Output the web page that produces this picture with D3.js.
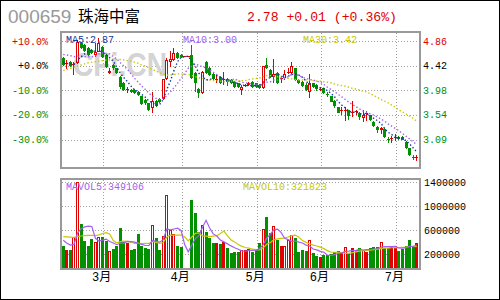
<!DOCTYPE html>
<html><head><meta charset="utf-8">
<script src="https://cdn.jsdelivr.net/npm/d3@7"></script>
<style>
html,body{margin:0;padding:0;background:#fff;}
svg{display:block;}
</style></head><body>
<script>
// ---------- data ----------
const stockCode = "000659";
const stockName = "珠海中富";
const quoteText = "2.78 +0.01 (+0.36%)";
const maLabels = ["MA5:2.87", "MA10:3.00", "MA30:3.42"];
const volMaLabels = ["MAVOL5:349106", "MAVOL10:321823"];

const opens = [4.55,4.45,4.49,4.43,4.46,4.82,4.79,4.73,4.70,4.61, 4.67,4.76,4.61,4.29,4.43,4.37,4.22,4.11,3.98,3.98,
  3.98,3.95,3.87,3.80,3.74,3.65,3.78,3.82,3.81,4.17, 4.49,4.52,4.65,4.61,4.59,4.59,4.61,4.28,4.00,3.92,
  4.49,4.38,4.27,4.17,4.22,4.17,4.17,4.16,4.13,4.10, 3.98,4.06,4.07,4.13,4.10,4.07,4.01,4.43,4.34,4.22,
  4.28,4.19,4.19,4.28,4.29,4.37,4.16,4.13,4.07,3.95, 4.10,4.07,3.99,4.01,3.93,3.87,3.79,3.67,3.61,3.61,
  3.62,3.57,3.59,3.57,3.47,3.55,3.53,3.41,3.32,3.26, 3.28,3.11,3.10,3.13,3.14,3.14,3.05,2.93,2.79,2.77];
const closes = [4.43,4.46,4.41,4.45,4.85,4.73,4.69,4.61,4.64,4.67, 4.82,4.58,4.40,4.33,4.37,4.28,4.04,3.98,3.99,3.95,
  3.93,3.89,3.73,3.74,3.62,3.78,3.70,3.76,4.17,4.52, 4.54,4.65,4.55,4.58,4.59,4.59,4.19,4.10,3.92,4.31,
  4.28,4.25,4.18,4.18,4.10,4.18,4.13,4.10,4.04,4.04, 4.04,4.07,4.10,4.04,4.04,4.01,4.41,4.37,4.22,4.26,
  4.11,4.20,4.27,4.31,4.41,4.16,4.10,4.05,3.98,4.11, 4.04,3.99,4.00,3.92,3.90,3.77,3.69,3.57,3.62,3.63,
  3.51,3.58,3.60,3.49,3.54,3.56,3.44,3.33,3.26,3.29, 3.13,3.10,3.11,3.14,3.10,3.09,2.93,2.81,2.77,2.78];
const highs = [4.57,4.52,4.50,4.49,4.88,4.85,4.81,4.75,4.72,4.82, 4.91,4.78,4.62,4.37,4.44,4.38,4.23,4.12,4.04,4.00,
  3.99,3.96,3.88,3.82,3.75,3.95,3.80,3.84,4.18,4.55, 4.68,4.73,4.67,4.62,4.59,4.59,4.79,4.30,4.01,4.32,
  4.50,4.40,4.29,4.25,4.23,4.31,4.19,4.17,4.14,4.11, 4.07,4.09,4.12,4.14,4.11,4.08,4.42,4.55,4.35,4.53,
  4.30,4.22,4.34,4.37,4.48,4.38,4.17,4.14,4.11,4.26, 4.11,4.08,4.03,4.02,3.95,3.88,3.80,3.68,3.67,3.67,
  3.63,3.78,3.63,3.58,3.63,3.61,3.54,3.42,3.34,3.31, 3.29,3.14,3.15,3.19,3.15,3.15,3.06,2.94,2.82,2.82];
const lows = [4.41,4.36,4.40,4.25,4.44,4.71,4.67,4.60,4.62,4.58, 4.66,4.55,4.38,4.27,4.34,4.26,4.00,3.96,3.92,3.93,
  3.91,3.87,3.71,3.72,3.60,3.56,3.68,3.74,3.80,4.16, 4.40,4.50,4.53,4.56,4.59,4.59,4.17,3.95,3.83,3.90,
  4.27,4.23,4.16,4.11,4.08,4.07,4.05,4.08,4.02,4.02, 3.89,4.03,4.05,4.02,4.02,3.99,3.99,4.35,4.20,4.10,
  4.09,4.10,4.16,4.27,4.26,4.14,4.08,4.03,3.96,3.83, 4.02,3.97,3.96,3.90,3.85,3.76,3.65,3.56,3.53,3.42,
  3.45,3.50,3.53,3.45,3.40,3.43,3.42,3.31,3.21,3.19, 3.12,3.03,3.03,3.06,3.09,3.08,2.92,2.80,2.73,2.71];
// volume in thousands of shares
const volumes = [333,267,267,478,1395,700,417,333,450,405, 478,488,422,250,283,333,628,417,388,267,
  283,533,333,295,283,683,462,267,500,1183, 600,533,333,312,0,0,1100,878,572,683,
  572,462,388,388,367,405,295,222,238,238, 267,267,283,238,267,388,612,822,545,667,
  433,333,333,433,517,462,238,267,255,433, 222,167,145,183,183,195,238,250,222,312,
  212,295,267,295,267,238,295,322,312,395, 295,295,322,333,255,283,333,430,322,388];
const ma5 = [4.47,4.46,4.45,4.44,4.52,4.58,4.63,4.67,4.70,4.67, 4.69,4.66,4.62,4.56,4.50,4.39,4.28,4.20,4.13,4.05,
  3.98,3.95,3.90,3.85,3.78,3.75,3.71,3.72,3.81,3.99, 4.14,4.33,4.49,4.57,4.58,4.59,4.50,4.41,4.28,4.22,
  4.16,4.17,4.19,4.24,4.20,4.18,4.15,4.14,4.11,4.10, 4.07,4.06,4.06,4.06,4.06,4.05,4.12,4.17,4.21,4.25,
  4.27,4.23,4.21,4.23,4.26,4.27,4.25,4.21,4.14,4.08, 4.06,4.03,4.02,4.01,3.97,3.92,3.86,3.77,3.71,3.66,
  3.60,3.58,3.59,3.56,3.54,3.55,3.53,3.47,3.43,3.38, 3.29,3.22,3.18,3.15,3.12,3.11,3.07,3.01,2.94,2.87];
const ma10 = [4.62,4.61,4.60,4.58,4.59,4.58,4.58,4.58,4.58,4.59, 4.63,4.65,4.64,4.63,4.58,4.54,4.47,4.41,4.35,4.27,
  4.19,4.12,4.05,3.99,3.92,3.87,3.83,3.81,3.83,3.88, 3.95,4.02,4.10,4.19,4.28,4.37,4.41,4.45,4.42,4.40,
  4.38,4.34,4.30,4.26,4.21,4.17,4.16,4.16,4.18,4.15, 4.12,4.11,4.10,4.08,4.08,4.06,4.09,4.12,4.13,4.16,
  4.16,4.18,4.19,4.22,4.26,4.27,4.24,4.21,4.19,4.17, 4.16,4.14,4.12,4.08,4.03,3.99,3.95,3.90,3.86,3.81,
  3.76,3.72,3.68,3.64,3.60,3.58,3.55,3.53,3.49,3.46, 3.42,3.37,3.33,3.29,3.25,3.20,3.15,3.10,3.05,3.00];
const ma30 = [4.33,4.35,4.37,4.39,4.41,4.43,4.45,4.47,4.48,4.49, 4.50,4.51,4.52,4.52,4.53,4.53,4.53,4.52,4.51,4.50,
  4.48,4.46,4.43,4.41,4.38,4.35,4.32,4.29,4.27,4.25, 4.25,4.26,4.27,4.27,4.26,4.26,4.24,4.22,4.20,4.19,
  4.17,4.16,4.15,4.15,4.14,4.13,4.14,4.14,4.14,4.14, 4.15,4.15,4.17,4.18,4.19,4.20,4.22,4.24,4.24,4.24,
  4.22,4.21,4.20,4.19,4.18,4.17,4.16,4.16,4.16,4.16, 4.15,4.14,4.14,4.13,4.12,4.11,4.09,4.07,4.06,4.05,
  4.03,4.01,4.00,3.98,3.96,3.95,3.91,3.88,3.85,3.81, 3.78,3.75,3.71,3.67,3.62,3.59,3.55,3.51,3.47,3.42];
const mavol5 = [430,380,350,360,548,621,651,665,659,461, 417,431,449,409,384,355,383,382,410,407,
  397,378,361,342,345,425,411,398,439,619, 602,617,630,592,356,236,349,458,510,647,
  761,633,535,499,435,402,369,335,305,280, 252,246,259,259,264,289,358,465,527,607,
  616,560,462,440,410,416,397,383,348,331, 283,269,244,230,180,175,189,210,218,243,
  247,258,262,276,267,272,272,283,287,312, 324,324,324,328,300,298,305,327,325,349.1];
const mavol10 = [490,485,480,478,490,500,505,510,510,505, 519,541,557,534,423,386,407,415,409,395,
  376,380,372,376,376,411,394,379,391,482, 514,514,514,516,487,419,483,544,551,501,
  498,491,497,504,541,582,501,435,402,358, 327,308,297,282,272,270,302,362,393,436,
  452,459,464,483,508,516,478,423,394,370, 349,333,314,289,256,229,229,227,224,212,
  211,224,236,247,255,260,265,273,282,290, 298,298,304,307,306,311,315,325,326,321.8];

const priceTicks = [4.86, 4.42, 3.98, 3.54, 3.09];
const pctLabels = ["+10.0%", "+0.0%", "-10.0%", "-20.0%", "-30.0%"];
const volTicks = [1400, 1000, 600, 200]; // thousands
const monthLabels = ["3月", "4月", "5月", "6月", "7月"];
const monthStarts = [11, 33, 54, 72, 93];

// ---------- style ----------
const RED = "#e00000", GREEN = "#009000", GRID = "#a0a0a0", FRAME = "#999999";
const MONO = "'Liberation Mono','DejaVu Sans Mono',monospace";
const W = 500, H = 300;

const svg = d3.select("body").append("svg").attr("width", W).attr("height", H)
  .attr("font-family", MONO);
svg.append("rect").attr("width", W).attr("height", H).attr("fill", "#fff");

// ---------- scales ----------
const n = closes.length;
const x = d3.scaleBand().domain(d3.range(n)).range([61.5, 418.5]).padding(0);
const cx = i => x(i) + x.bandwidth() / 2;
const y = d3.scaleLinear().domain([2.578, 5.042]).range([168, 31]);
const yv = d3.scaleLinear().domain([-50, 1466.7]).range([269, 178]);
const crisp = v => Math.round(v) + 0.5;

// ---------- header ----------
svg.append("text").attr("x", 8).attr("y", 23).attr("font-family", "'Liberation Sans',Arial,sans-serif")
  .attr("font-size", 19).attr("fill", "#999").text(stockCode);
svg.append("text").attr("x", 78).attr("y", 22).attr("font-family", "'Noto Sans CJK SC',sans-serif")
  .attr("font-size", 15.5).attr("fill", "#000").text(stockName);
svg.append("text").attr("x", 247).attr("y", 21).attr("font-size", 13).attr("fill", RED)
  .attr("textLength", 150).attr("lengthAdjust", "spacingAndGlyphs").text(quoteText);

// ---------- price panel ----------
const pp = svg.append("g");
// grid
pp.selectAll("line.hg").data(priceTicks).join("line")
  .attr("x1", 62).attr("x2", 419).attr("y1", d => crisp(y(d))).attr("y2", d => crisp(y(d)))
  .attr("stroke", GRID).attr("stroke-dasharray", "1,2");
pp.selectAll("line.vg").data(monthStarts).join("line")
  .attr("x1", d => crisp(cx(d) + 0.8)).attr("x2", d => crisp(cx(d) + 0.8)).attr("y1", 33).attr("y2", 167)
  .attr("stroke", GRID).attr("stroke-dasharray", "1,2");
// watermark
pp.append("text").attr("x", 73).attr("y", 76).attr("font-family", "'Liberation Sans',Arial,sans-serif")
  .attr("font-weight", "bold").attr("font-size", 33).attr("fill", "#d4d4d4")
  .attr("textLength", 94).attr("lengthAdjust", "spacingAndGlyphs").text("CFi.CN");

// candles
const cg = pp.append("g");
d3.range(n).forEach(i => {
  const c = cx(i), x0 = Math.round(c - 1.5);
  const up = closes[i] >= opens[i];
  const col = up ? RED : GREEN;
  if (volumes[i] === 0) {
    cg.append("line").attr("x1", x(i)).attr("x2", x(i) + x.bandwidth())
      .attr("y1", crisp(y(closes[i]))).attr("y2", crisp(y(closes[i]))).attr("stroke", RED);
    return;
  }
  cg.append("line").attr("x1", x0 + 1.5).attr("x2", x0 + 1.5)
    .attr("y1", Math.round(y(highs[i]))).attr("y2", Math.round(y(lows[i]))).attr("stroke", col);
  const yo = y(opens[i]), yc = y(closes[i]);
  const top = Math.round(Math.min(yo, yc)), bot = Math.round(Math.max(yo, yc));
  if (bot - top < 2) {
    cg.append("line").attr("x1", x0).attr("x2", x0 + 3).attr("y1", crisp(yc)).attr("y2", crisp(yc)).attr("stroke", col);
  } else if (up) {
    cg.append("rect").attr("x", x0 + 0.5).attr("y", top + 0.5).attr("width", 2).attr("height", bot - top - 1)
      .attr("fill", "#fff").attr("stroke", col);
  } else {
    cg.append("rect").attr("x", x0).attr("y", top).attr("width", 3).attr("height", bot - top).attr("fill", col);
  }
});

// moving averages
const maLine = d3.line().x((d, i) => cx(i)).y(d => y(d));
[[ma30, "#c8c800"], [ma10, "#a460f0"], [ma5, "#10389a"]].forEach(([arr, col]) => {
  pp.append("path").attr("d", maLine(arr)).attr("fill", "none").attr("stroke", col)
    .attr("stroke-width", 1.4).attr("stroke-dasharray", "1.4,2.2");
});
pp.append("text").attr("x", 66).attr("y", 43).attr("font-size", 10).attr("fill", "#10389a").text(maLabels[0]);
pp.append("text").attr("x", 183).attr("y", 43).attr("font-size", 10).attr("fill", "#a460f0").text(maLabels[1]);
pp.append("text").attr("x", 303).attr("y", 43).attr("font-size", 10).attr("fill", "#c8c800").text(maLabels[2]);

// frame
pp.append("rect").attr("x", 61).attr("y", 32).attr("width", 359).attr("height", 136)
  .attr("fill", "none").attr("stroke", FRAME).attr("stroke-width", 2);

// price axes
const tickColor = (d, i) => i === 0 ? RED : (i === 1 ? "#000" : GREEN);
const ra = svg.append("g").attr("transform", "translate(423,0)")
  .call(d3.axisRight(y).tickValues(priceTicks).tickSize(0).tickPadding(0).tickFormat(d3.format(".2f")));
ra.select(".domain").remove();
ra.selectAll("text").attr("font-family", MONO).attr("font-size", 10).attr("fill", tickColor);
const la = svg.append("g").attr("transform", "translate(48,0)")
  .call(d3.axisLeft(y).tickValues(priceTicks).tickSize(0).tickPadding(0).tickFormat((d, i) => pctLabels[i]));
la.select(".domain").remove();
la.selectAll("text").attr("font-family", MONO).attr("font-size", 10).attr("fill", tickColor);

// ---------- volume panel ----------
const vp = svg.append("g");
vp.selectAll("line.hg").data(volTicks).join("line")
  .attr("x1", 62).attr("x2", 419).attr("y1", d => crisp(yv(d))).attr("y2", d => crisp(yv(d)))
  .attr("stroke", GRID).attr("stroke-dasharray", "1,2");
vp.selectAll("line.vg").data(monthStarts).join("line")
  .attr("x1", d => crisp(cx(d) + 0.8)).attr("x2", d => crisp(cx(d) + 0.8)).attr("y1", 180).attr("y2", 268)
  .attr("stroke", GRID).attr("stroke-dasharray", "1,2");

const vg = vp.append("g");
d3.range(n).forEach(i => {
  if (volumes[i] === 0) return;
  const x0 = Math.round(cx(i) - 1.5);
  const up = closes[i] >= opens[i];
  const flat = Math.abs(closes[i] - opens[i]) < 0.015;
  const top = Math.round(yv(volumes[i]));
  const bot = 269;
  if (up && !flat) {
    vg.append("rect").attr("x", x0 + 0.5).attr("y", top + 0.5).attr("width", 2).attr("height", bot - top - 1)
      .attr("fill", "#fff").attr("stroke", RED);
  } else {
    vg.append("rect").attr("x", x0).attr("y", top).attr("width", 3).attr("height", bot - top)
      .attr("fill", up ? RED : GREEN);
  }
});
const vLine = d3.line().x((d, i) => cx(i)).y(d => yv(d));
vp.append("path").attr("d", vLine(mavol10)).attr("fill", "none").attr("stroke", "#c8c800").attr("stroke-width", 1.2);
vp.append("path").attr("d", vLine(mavol5)).attr("fill", "none").attr("stroke", "#a460f0").attr("stroke-width", 1.2);
vp.append("text").attr("x", 66).attr("y", 190).attr("font-size", 10).attr("fill", "#a460f0").text(volMaLabels[0]);
vp.append("text").attr("x", 243).attr("y", 190).attr("font-size", 10).attr("fill", "#c8c800").text(volMaLabels[1]);
vp.append("rect").attr("x", 61).attr("y", 179).attr("width", 359).attr("height", 90)
  .attr("fill", "none").attr("stroke", FRAME).attr("stroke-width", 2);

const va = svg.append("g").attr("transform", "translate(424,0)")
  .call(d3.axisRight(yv).tickValues(volTicks).tickSize(0).tickPadding(0).tickFormat(d => String(d * 1000)));
va.select(".domain").remove();
va.selectAll("text").attr("font-family", MONO).attr("font-size", 10).attr("fill", "#000");

// month labels
const ma = svg.append("g").attr("transform", "translate(-1,272)")
  .call(d3.axisBottom(x).tickValues(monthStarts).tickSize(0).tickPadding(0).tickFormat((d, i) => monthLabels[i]));
ma.select(".domain").remove();
ma.selectAll("text").attr("font-family", "'Liberation Mono','Noto Sans CJK SC',monospace").attr("font-size", 12).attr("fill", "#000");

// outer border
svg.append("rect").attr("x", 0.5).attr("y", 0.5).attr("width", W - 1).attr("height", H - 1)
  .attr("fill", "none").attr("stroke", "#000");
</script>
</body></html>
